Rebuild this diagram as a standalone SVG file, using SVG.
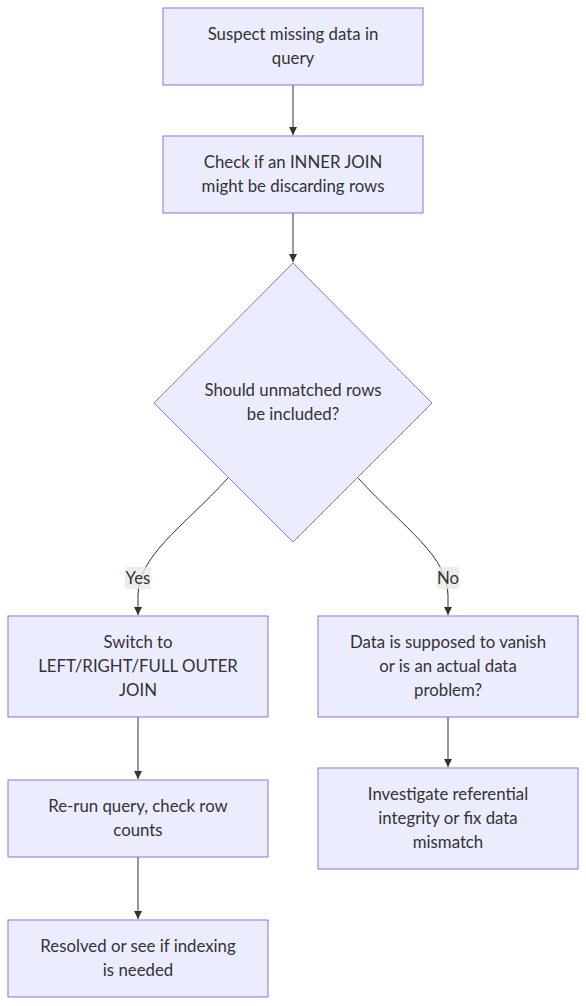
<svg xmlns="http://www.w3.org/2000/svg" width="586" height="1006" viewBox="0 0 586 1006">
<style>
.n{fill:#ECECFF;stroke:#9370DB;stroke-width:1}
.t{font-family:Lato,"Noto Sans",sans-serif;font-size:16.8px;fill:#333;text-anchor:middle;dominant-baseline:central}
.e{fill:none;stroke:#333;stroke-width:1}
.lb{fill:#e8e8e8;opacity:0.8}
</style>
<defs>
<marker id="ah" viewBox="0 0 10 10" refX="10" refY="5" markerWidth="8" markerHeight="8" markerUnits="userSpaceOnUse" orient="auto">
<path d="M0,0 L10,5 L0,10 z" fill="#333"/>
</marker>
</defs>
<rect width="586" height="1006" fill="#fff"/>
<g id="edges">
<path class="e" d="M293,85 L293,135" marker-end="url(#ah)"/>
<path class="e" d="M293,213 L293,262" marker-end="url(#ah)"/>
<path class="e" d="M228,478 C180,530 138,556 138,596 L138,615" marker-end="url(#ah)"/>
<path class="e" d="M358,478 C406,530 448,556 448,596 L448,615" marker-end="url(#ah)"/>
<path class="e" d="M138,717 L138,779" marker-end="url(#ah)"/>
<path class="e" d="M448,717 L448,767" marker-end="url(#ah)"/>
<path class="e" d="M138,857 L138,919" marker-end="url(#ah)"/>
<g id="lblYes"><rect class="lb" x="125" y="567" width="26" height="22"/><text class="t" x="138" y="577">Yes</text></g>
<g id="lblNo"><rect class="lb" x="437" y="567" width="22" height="22"/><text class="t" x="448" y="577">No</text></g>
</g>
<g id="A"><rect class="n" x="163" y="8" width="260" height="77"/><text class="t" x="293" y="33">Suspect missing data in</text><text class="t" x="293" y="57">query</text></g>
<g id="B"><rect class="n" x="163" y="136" width="260" height="77"/><text class="t" x="293" y="161">Check if an INNER JOIN</text><text class="t" x="293" y="185">might be discarding rows</text></g>
<g id="C"><polygon class="n" points="293,263 432,403 293,542 154,403"/><text class="t" x="293" y="389">Should unmatched rows</text><text class="t" x="293" y="413">be included?</text></g>
<g id="D"><rect class="n" x="8" y="616" width="260" height="101"/><text class="t" x="138" y="641">Switch to</text><text class="t" x="138" y="665">LEFT/RIGHT/FULL OUTER</text><text class="t" x="138" y="689">JOIN</text></g>
<g id="E"><rect class="n" x="318" y="616" width="260" height="101"/><text class="t" x="448" y="641">Data is supposed to vanish</text><text class="t" x="448" y="665">or is an actual data</text><text class="t" x="448" y="689">problem?</text></g>
<g id="F"><rect class="n" x="8" y="780" width="260" height="77"/><text class="t" x="138" y="805">Re-run query, check row</text><text class="t" x="138" y="829">counts</text></g>
<g id="G"><rect class="n" x="318" y="768" width="260" height="101"/><text class="t" x="448" y="793">Investigate referential</text><text class="t" x="448" y="817">integrity or fix data</text><text class="t" x="448" y="841">mismatch</text></g>
<g id="H"><rect class="n" x="8" y="920" width="260" height="77"/><text class="t" x="138" y="945">Resolved or see if indexing</text><text class="t" x="138" y="969">is needed</text></g>
</svg>
